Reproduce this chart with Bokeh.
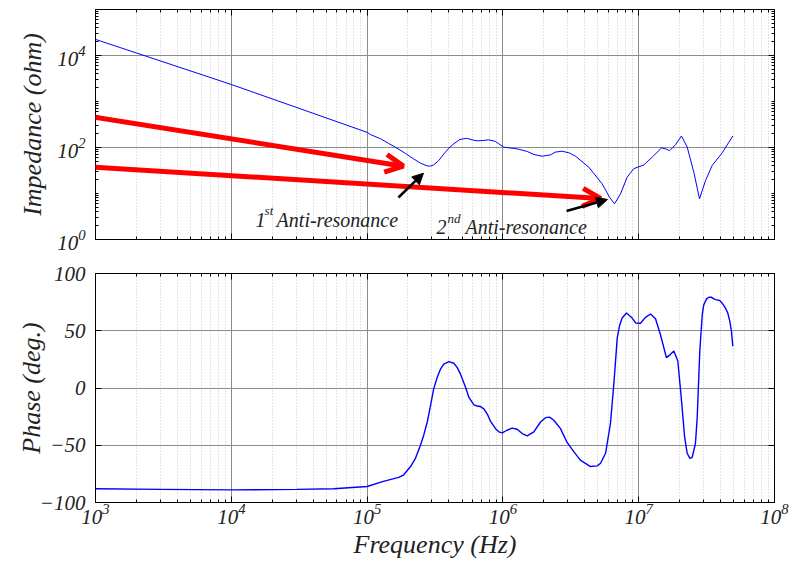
from bokeh.plotting import figure
from bokeh.layouts import column
from bokeh.models import (FixedTicker, LogAxis, LinearAxis, Range1d, Arrow,
                          OpenHead, NormalHead, Label)
from bokeh.embed import file_html
from bokeh.resources import INLINE

# ---------------- data ----------------
freq_z = [1.0e3, 1.0e4, 1.0e5, 1.06e5, 1.256e5, 1.445e5, 1.66e5, 1.919e5,
          2.208e5, 2.472e5, 2.773e5, 2.917e5, 3.09e5, 3.373e5, 3.673e5,
          4.0e5, 4.345e5, 4.82e5, 5.395e5, 5.943e5, 6.457e5, 7.047e5,
          7.87e5, 8.83e5, 9.33e5, 1.016e6, 1.202e6, 1.309e6, 1.514e6,
          1.69e6, 1.95e6, 2.239e6, 2.438e6, 2.729e6, 3.09e6, 3.428e6,
          4.295e6, 5.383e6, 6.095e6, 6.637e6, 7.345e6, 8.222e6, 9.204e6,
          1.0e7, 1.091e7, 1.256e7, 1.472e7, 1.585e7, 1.687e7, 1.866e7,
          2.065e7, 2.275e7, 2.547e7, 2.805e7, 3.105e7, 3.475e7, 4.121e7,
          4.932e7]
impedance = [22390, 2344, 213.8, 190.5, 154.9, 122.2, 96.6, 74.1,
             56.2, 45.7, 39.8, 39.4, 41.7, 52.1, 72.4,
             96.6, 120.2, 149.3, 158.5, 146.9, 139.6, 141.3,
             146.9, 134.9, 120.2, 101.6, 95.5, 91.8, 81.8,
             70.5, 64.6, 69.2, 79.4, 83.2, 75.9, 64.6,
             37.2, 16.2, 8.32, 5.97, 9.77, 22.6, 34.7,
             38.0, 41.7, 61.7, 97.7, 93.3, 85.1, 114.8,
             177.8, 102.3, 28.8, 7.67, 19.1, 40.7, 76.7,
             177.8]

freq_p = [1.0e3, 3.02e3, 1.0e4, 3.02e4, 5.69e4, 1.0e5, 1.318e5, 1.71e5,
          1.862e5, 2.089e5, 2.27e5, 2.472e5, 2.612e5, 2.773e5, 2.931e5,
          3.09e5, 3.281e5, 3.467e5, 3.673e5, 4.0e5, 4.345e5, 4.603e5,
          4.875e5, 5.309e5, 5.61e5, 6.109e5, 6.457e5, 6.839e5, 7.244e5,
          7.656e5, 8.11e5, 8.831e5, 9.333e5, 9.886e5, 1.072e6, 1.169e6,
          1.274e6, 1.387e6, 1.51e6, 1.69e6, 1.892e6, 2.061e6, 2.203e6,
          2.371e6, 2.655e6, 2.951e6, 3.327e6, 3.715e6, 4.416e6, 4.943e6,
          5.236e6, 5.702e6, 6.194e6, 6.561e6, 6.95e6, 7.261e6, 7.551e6,
          8.128e6, 8.954e6, 9.484e6, 1.03e7, 1.122e7, 1.222e7, 1.33e7,
          1.445e7, 1.6e7, 1.714e7, 1.816e7, 1.941e7, 2.056e7, 2.178e7,
          2.275e7, 2.382e7, 2.477e7, 2.618e7, 2.698e7, 2.818e7, 2.938e7,
          3.013e7, 3.162e7, 3.289e7, 3.42e7, 3.573e7, 3.741e7, 3.954e7,
          4.121e7, 4.355e7, 4.529e7, 4.688e7, 4.819e7, 4.932e7]
phase = [-88, -88.5, -89, -88.5, -88, -86, -81.5, -78,
         -75.8, -68.6, -61.4, -50, -41.2, -29.7, -15.3,
         -1, 9.2, 16.4, 20.8, 23, 21.6, 18,
         12.1, 0.6, -8, -14.7, -15.7, -16.2, -18.2,
         -22.5, -29.1, -35.5, -38.3, -39.2, -36.9, -35,
         -36, -39.8, -41.8, -38.3, -29.7, -25.9, -25.4,
         -28.2, -35.5, -47, -55.6, -63, -68.6, -68,
         -65.7, -57, -31, 3.5, 43.8, 55.3, 61.1,
         65.5, 61.1, 56.8, 56.5, 61.7, 64.6, 60.5,
         46.7, 26.5, 29.4, 32.3, 23.6, -8, -42.6,
         -57, -61.4, -60.5, -48.4, -25.3, 32.3, 64,
         72.6, 77.8, 79.3, 79.3, 77.8, 77, 76.4,
         74.1, 69.8, 65.5, 58.2, 49.6, 36.6]

x_major = [1e3, 1e4, 1e5, 1e6, 1e7, 1e8]
x_minor = [k * 10 ** d for d in range(3, 8) for k in range(2, 10)]
z_major = [1, 1e2, 1e4]
z_minor = [k * 10 ** d for d in range(0, 5) for k in range(1, 10)
           if not (k == 1 and d % 2 == 0)] + [1e5]
p_major = [-100, -50, 0, 50, 100]

# annotations: (x_start, y_start, x_end, y_end) in data units
red_arrows = [(200, 966, 1.85e5, 39.3), (200, 49.6, 5.24e6, 7.8)]
black_arrows = [(1.70e5, 8.19, 2.60e5, 27.6), (2.94e6, 4.17, 5.89e6, 7.4)]
notes = [(1.51e4, 2.68, "1", "st"), (3.24e5, 1.85, "2", "nd")]
note_text = "Anti-resonance"

FONT = "Liberation Serif"


def style_axis(ax, labels=True, size="21px"):
    ax.major_tick_in = 6
    ax.major_tick_out = 0
    ax.minor_tick_in = 3
    ax.minor_tick_out = 0
    ax.axis_line_color = "black"
    ax.major_tick_line_color = "black"
    ax.minor_tick_line_color = "black"
    ax.major_label_text_font = FONT
    ax.major_label_text_font_style = "italic"
    ax.major_label_text_color = "#222222"
    ax.major_label_text_font_size = size
    if not labels:
        ax.major_label_text_font_size = "1px"
        ax.major_label_text_alpha = 0
        ax.major_label_standoff = 0
    ax.axis_label_text_font = FONT
    ax.axis_label_text_font_style = "italic"
    ax.axis_label_text_font_size = "26px"
    ax.axis_label_text_color = "#222222"


def style_fig(p):
    p.background_fill_color = "white"
    p.border_fill_color = "white"
    p.outline_line_color = "black"
    p.xgrid.grid_line_color = "#8c8c8c"
    p.ygrid.grid_line_color = "#8c8c8c"
    p.xgrid.minor_grid_line_color = "#c8c8c8"
    p.xgrid.minor_grid_line_dash = "1 2"


# ---------------- top: impedance ----------------
p1 = figure(width=796, height=256, x_axis_type="log", y_axis_type="log",
            x_range=Range1d(1e3, 1e8), y_range=Range1d(1, 1e5),
            output_backend="svg", toolbar_location=None,
            min_border_left=95, min_border_right=22,
            min_border_top=9, min_border_bottom=17)
style_fig(p1)
p1.xaxis.ticker = FixedTicker(ticks=x_major, minor_ticks=x_minor)
p1.yaxis.ticker = FixedTicker(ticks=z_major, minor_ticks=z_minor)
style_axis(p1.xaxis[0], labels=False)
style_axis(p1.yaxis[0])
p1.yaxis.axis_label = "Impedance (ohm)"
p1.yaxis.axis_label_standoff = 7
p1.yaxis.major_label_standoff = 10
top1 = LogAxis(ticker=FixedTicker(ticks=x_major, minor_ticks=x_minor))
right1 = LogAxis(ticker=FixedTicker(ticks=z_major, minor_ticks=z_minor))
style_axis(top1, labels=False)
style_axis(right1, labels=False)
p1.add_layout(top1, "above")
p1.add_layout(right1, "right")

p1.line(freq_z, impedance, line_color="#0000ff", line_width=1)

for xs, ys, xe, ye in red_arrows:
    p1.add_layout(Arrow(end=OpenHead(line_color="red", line_width=5, size=18),
                        x_start=xs, y_start=ys, x_end=xe, y_end=ye,
                        line_color="red", line_width=5))
for xs, ys, xe, ye in black_arrows:
    p1.add_layout(Arrow(end=NormalHead(line_color="black", fill_color="black",
                                       size=11),
                        x_start=xs, y_start=ys, x_end=xe, y_end=ye,
                        line_color="black", line_width=2.5))
for xn, yn, num, suf in notes:
    off = 9 if num == "1" else 11
    p1.add_layout(Label(x=xn, y=yn, text=num, text_font=FONT,
                        text_font_style="italic", text_font_size="20px",
                        text_color="#222222", text_baseline="alphabetic"))
    p1.add_layout(Label(x=xn, y=yn, text=suf, text_font=FONT,
                        text_font_style="italic", text_font_size="13px",
                        text_color="#222222", text_baseline="alphabetic",
                        x_offset=off, y_offset=9))
    p1.add_layout(Label(x=xn, y=yn, text=note_text, text_font=FONT,
                        text_font_style="italic", text_font_size="20px",
                        text_color="#222222", text_baseline="alphabetic",
                        x_offset=off + 12 + (6 if num == "2" else 0)))

# ---------------- bottom: phase ----------------
p2 = figure(width=796, height=305, x_axis_type="log",
            x_range=Range1d(1e3, 1e8), y_range=Range1d(-100, 100),
            output_backend="svg", toolbar_location=None,
            min_border_left=95, min_border_right=22,
            min_border_top=17, min_border_bottom=57)
style_fig(p2)
p2.xaxis.ticker = FixedTicker(ticks=x_major, minor_ticks=x_minor)
p2.yaxis.ticker = FixedTicker(ticks=p_major)
style_axis(p2.xaxis[0])
style_axis(p2.yaxis[0])
p2.xaxis.axis_label = "Frequency (Hz)"
p2.xaxis.major_label_standoff = 1
p2.xaxis.axis_label_standoff = 3
p2.yaxis.axis_label = "Phase (deg.)"
p2.yaxis.major_label_standoff = 10
p2.yaxis.axis_label_standoff = -9
top2 = LogAxis(ticker=FixedTicker(ticks=x_major, minor_ticks=x_minor))
right2 = LinearAxis(ticker=FixedTicker(ticks=p_major))
style_axis(top2, labels=False)
style_axis(right2, labels=False)
p2.add_layout(top2, "above")
p2.add_layout(right2, "right")

p2.line(freq_p, phase, line_color="#0000ff", line_width=1.4)

layout = column(p1, p2)
open("out.html", "w").write(file_html(layout, INLINE))
